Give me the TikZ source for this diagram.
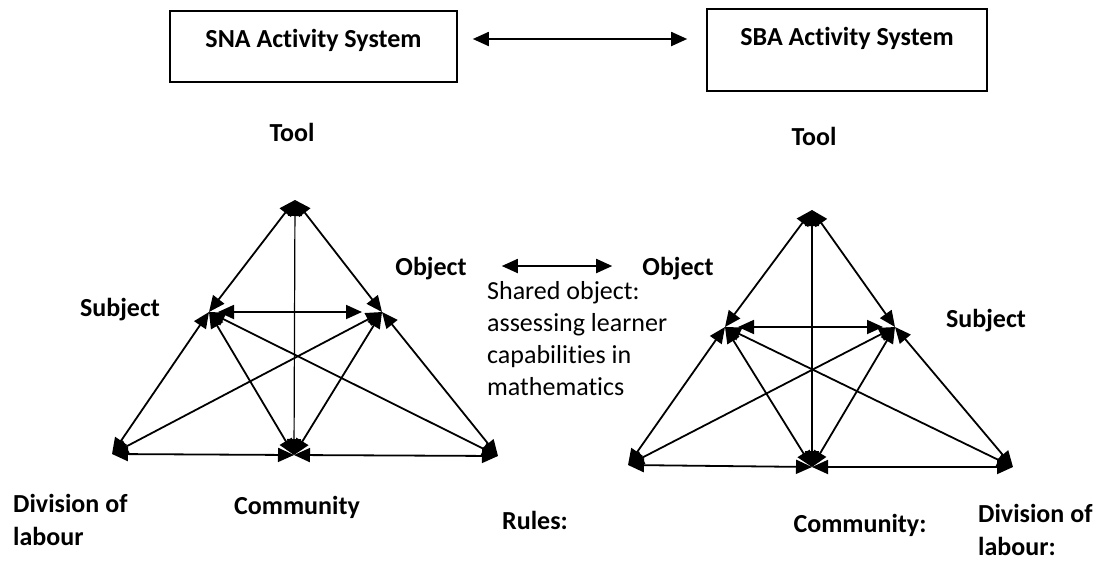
\documentclass[tikz,border=0pt]{standalone}
\usepackage{fontspec}
\setmainfont{Carlito}[Ligatures=NoCommon]
\usetikzlibrary{arrows.meta}
\begin{document}
\begin{tikzpicture}[x=1pt,y=-1pt,
  lbl/.style={font=\fontsize{26}{32}\selectfont\bfseries, inner sep=0pt, anchor=base},
  lblw/.style={font=\fontsize{26}{33}\selectfont\bfseries, inner sep=0pt, align=left, anchor=north west},
  txt/.style={font=\fontsize{26}{32}\selectfont, inner sep=0pt, align=left, anchor=north west},
  dbl/.style={{Triangle[length=16pt,width=14pt]}-{Triangle[length=16pt,width=14pt]}, line width=1.8pt},
  thin/.style={{Triangle[length=16pt,width=14pt]}-{Triangle[length=16pt,width=14pt]}, line width=1.2pt},
  box/.style={draw, line width=1.6pt, inner sep=0pt, font=\fontsize{26}{32}\selectfont\bfseries}
]
\useasboundingbox (0,0) rectangle (1103,563);

% top boxes
\node[box, minimum width=287pt, text height=36.4pt, text depth=34.6pt] (sna) at (313.5,46.5) {SNA Activity System};
\node[box, minimum width=280pt, text height=36.4pt, text depth=45.6pt] (sba) at (847,50) {SBA Activity System};
\draw[dbl, shorten <=15pt, shorten >=19pt] ([yshift=7.5pt]sna.east) -- ([yshift=11pt]sba.west);

% labels
\node[lbl] (toolL) at (292,141.5) {Tool};
\node[lbl] (toolR) at (814,145) {Tool};
\node[lbl] (objL) at (431,275) {Object};
\node[lbl] (objR) at (678,275) {Object};
\node[lbl] (subL) at (120,316.5) {Subject};
\node[lbl] (subR) at (986,327) {Subject};
\node[lblw] (divL) at (13,494) {Division of\\labour};
\node[lbl] (comL) at (297,514) {Community};
\node[lbl] (rules) at (535,529) {Rules:};
\node[lbl] (comR) at (860,532) {Community:};
\node[lblw] (divR) at (978,504) {Division of\\labour:};
\node[txt] (shared) at (487,281) {Shared object:\\assessing learner\\capabilities in\\mathematics};

\draw[dbl, shorten <=35pt, shorten >=30pt] ([yshift=9pt]objL.base east) -- ([yshift=9pt]objR.base west);

% left triangle
\coordinate (T1) at (295,200);
\coordinate (UL1) at (209,312);
\coordinate (UR1) at (382,312);
\coordinate (BL1) at (112,454);
\coordinate (BM1) at (294,455);
\coordinate (BR1) at (498,456);
\draw[dbl] (T1) -- (UL1);
\draw[dbl] (T1) -- (UR1);
\draw[thin] (T1) -- (BM1);
\draw[dbl, shorten <=9pt, shorten >=20pt] (UL1) -- (UR1);
\draw[dbl] (UL1) -- (BL1);
\draw[dbl] (UL1) -- (BM1);
\draw[dbl] (UL1) -- (BR1);
\draw[dbl] (UR1) -- (BL1);
\draw[dbl] (UR1) -- (BM1);
\draw[dbl] (UR1) -- (BR1);
\draw[dbl] (BL1) -- (BM1);
\draw[dbl] (BM1) -- (BR1);

% right triangle
\coordinate (T2) at (812,210);
\coordinate (UL2) at (725,327);
\coordinate (UR2) at (895,327);
\coordinate (BL2) at (628,465);
\coordinate (BM2) at (812,467);
\coordinate (BR2) at (1013,467);
\draw[dbl] (T2) -- (UL2);
\draw[dbl] (T2) -- (UR2);
\draw[thin] (T2) -- (BM2);
\draw[dbl, shorten <=13pt, shorten >=12pt] (UL2) -- (UR2);
\draw[dbl] (UL2) -- (BL2);
\draw[dbl] (UL2) -- (BM2);
\draw[dbl] (UL2) -- (BR2);
\draw[dbl] (UR2) -- (BL2);
\draw[dbl] (UR2) -- (BM2);
\draw[dbl] (UR2) -- (BR2);
\draw[dbl] (BL2) -- (BM2);
\draw[dbl] (BM2) -- (BR2);
\end{tikzpicture}
\end{document}
